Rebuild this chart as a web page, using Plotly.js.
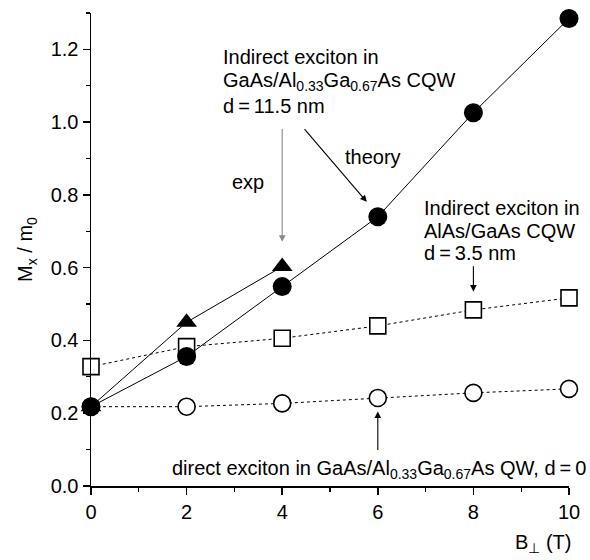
<!DOCTYPE html>
<html>
<head>
<meta charset="utf-8">
<script src="https://cdn.plot.ly/plotly-3.0.1.min.js"></script>
<style>html,body{margin:0;padding:0;background:#fff;}#chart{width:590px;height:560px;}</style>
</head>
<body>
<div id="chart"></div>
<script>
// Magnetic field B_perp (T)
const fieldT = [0, 2, 4, 6, 8, 10];
const fieldExp = [0, 2, 4];
// Indirect exciton GaAs/Al0.33Ga0.67As CQW, d=11.5 nm — theory (filled circles)
const theoryCQW = [0.218, 0.356, 0.548, 0.74, 1.026, 1.285];
// same — experiment (filled triangles)
const expCQW = [0.218, 0.45, 0.603];
// Indirect exciton AlAs/GaAs CQW, d=3.5 nm (open squares)
const alasCQW = [0.328, 0.383, 0.406, 0.44, 0.484, 0.517];
// Direct exciton GaAs/Al0.33Ga0.67As QW, d=0 (open circles)
const directQW = [0.218, 0.218, 0.227, 0.242, 0.256, 0.267];

const yTicks = [0, 0.2, 0.4, 0.6, 0.8, 1.0, 1.2];
const xTicks = [0, 2, 4, 6, 8, 10];

const FONT = 'Liberation Sans, Arial, sans-serif';

const traces = [
  {x: fieldT, y: alasCQW, mode: 'lines+markers', cliponaxis: false,
   line: {color: '#000', width: 1, dash: 'dot'},
   marker: {symbol: 'square', size: 16, color: '#fff', line: {color: '#000', width: 1.6}}},
  {x: fieldT, y: directQW, mode: 'lines+markers', cliponaxis: false,
   line: {color: '#000', width: 1, dash: 'dot'},
   marker: {symbol: 'circle', size: 17, color: '#fff', line: {color: '#000', width: 1.6}}},
  {x: fieldExp, y: expCQW, mode: 'lines+markers', cliponaxis: false,
   line: {color: '#000', width: 1},
   marker: {symbol: 'triangle-up', size: 18, color: '#000'}},
  {x: fieldT, y: theoryCQW, mode: 'lines+markers', cliponaxis: false,
   line: {color: '#000', width: 1},
   marker: {symbol: 'circle', size: 19, color: '#000'}}
];

const tf = {family: FONT, size: 20, color: '#000'};
const txt = (x, y, text, xanchor) => ({x, y, xref: 'x', yref: 'y', text, showarrow: false,
  xanchor: xanchor || 'left', yanchor: 'middle', font: tf});
const arr = (x, y, ax, ay, color) => ({x, y, ax, ay, xref: 'x', yref: 'y', axref: 'x', ayref: 'y',
  text: '', showarrow: true, arrowhead: 2, arrowsize: 1.2, arrowwidth: 1.1, arrowcolor: color || '#000'});

const annotations = [
  txt(2.72, 1.180, 'Indirect exciton in'),
  txt(2.72, 1.111, 'GaAs/Al<sub>0.33</sub>Ga<sub>0.67</sub>As CQW'),
  txt(2.72, 1.045, 'd\u2009=\u200911.5 nm'),
  txt(3.28, 0.836, 'exp', 'center'),
  txt(5.9, 0.905, 'theory', 'center'),
  arr(4, 0.671, 4, 0.985, '#888'),
  arr(5.77, 0.781, 4.44, 0.985),
  txt(6.92, 0.765, 'Indirect exciton in'),
  txt(6.92, 0.702, 'AlAs/GaAs CQW'),
  txt(6.92, 0.641, 'd\u2009=\u20093.5 nm'),
  arr(8, 0.534, 8, 0.608),
  arr(6, 0.205, 6, 0.095),
  {x: 1, xref: 'paper', y: 0.044, yref: 'y', xanchor: 'right', yanchor: 'middle',
   text: 'direct exciton in GaAs/Al<sub>0.33</sub>Ga<sub>0.67</sub>As QW, d\u2009=\u20090',
   showarrow: false, font: tf, xshift: 19},
  {x: 1, xref: 'paper', y: 0, yref: 'paper', xanchor: 'right', yanchor: 'top',
   text: 'B<sub>\u22a5</sub> (T)', showarrow: false, font: tf, yshift: -43, xshift: 4}
];

const layout = {
  width: 590, height: 560,
  margin: {l: 91, r: 21, t: 13, b: 74},
  paper_bgcolor: '#fff', plot_bgcolor: '#fff',
  showlegend: false,
  font: tf,
  xaxis: {range: [0, 10], tickvals: xTicks, ticktext: xTicks.map(String),
    showgrid: false, zeroline: false, showline: true, linecolor: '#000', linewidth: 1.5,
    ticks: 'outside', ticklen: 7, tickwidth: 1.5, tickcolor: '#000', tickfont: tf,
    minor: {dtick: 1, tick0: 0, ticks: 'outside', ticklen: 4, tickwidth: 1.2, tickcolor: '#000'}},
  yaxis: {range: [0, 1.3], tickvals: yTicks, ticktext: yTicks.map(v => v.toFixed(1)),
    showgrid: false, zeroline: false, showline: true, linecolor: '#000', linewidth: 1.5,
    ticks: 'outside', ticklen: 7, tickwidth: 1.5, tickcolor: '#000', tickfont: tf,
    minor: {dtick: 0.1, tick0: 0, ticks: 'outside', ticklen: 4, tickwidth: 1.2, tickcolor: '#000'},
    title: {text: 'M<sub>x</sub> / m<sub>0</sub>', font: tf, standoff: 12}},
  annotations
};

Plotly.newPlot('chart', traces, layout, {displayModeBar: false, staticPlot: true});
</script>
</body>
</html>
